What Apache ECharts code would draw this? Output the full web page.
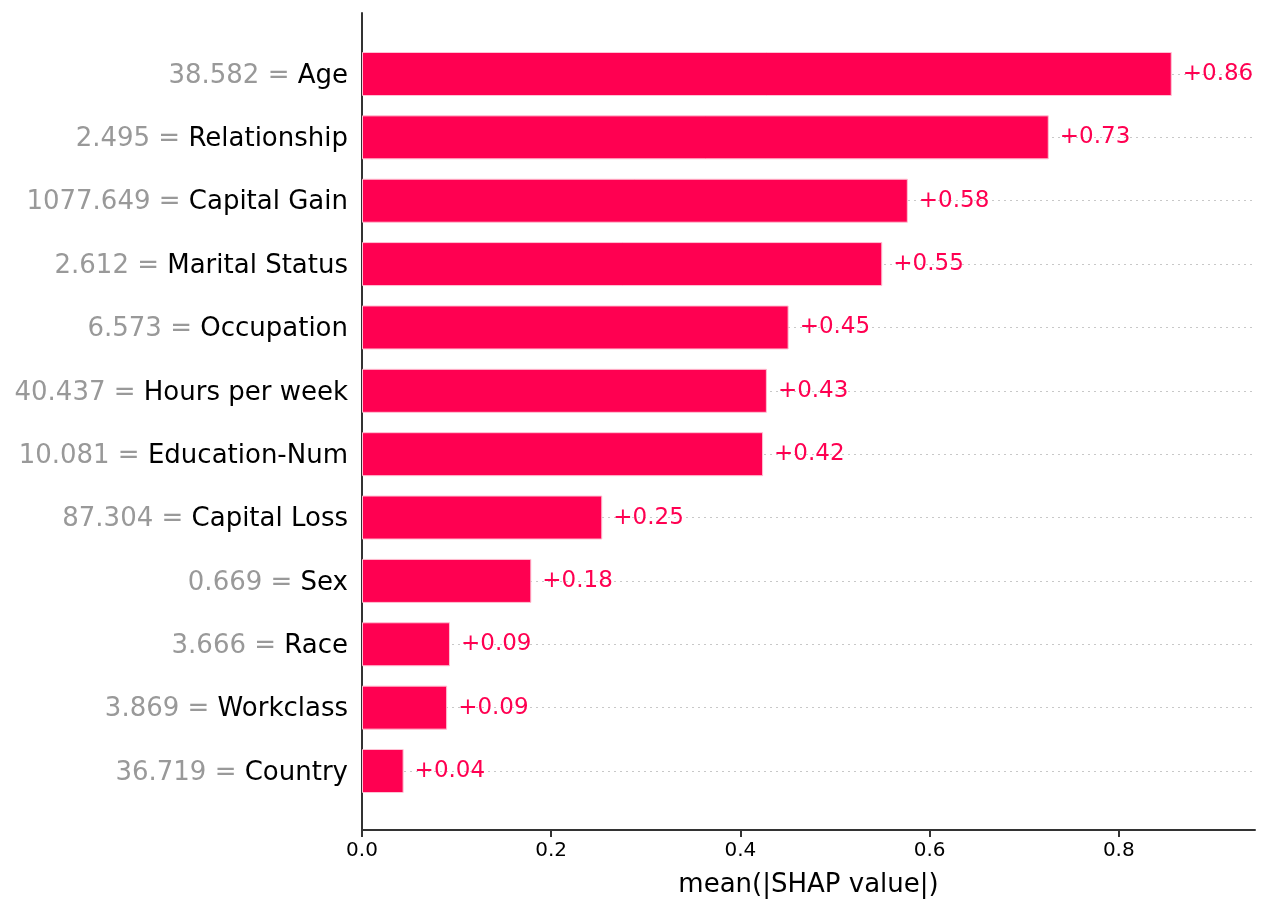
<!DOCTYPE html>
<html>
<head>
<meta charset="utf-8">
<script src="https://cdn.jsdelivr.net/npm/echarts@6/dist/echarts.min.js"></script>
<style>
  html, body { margin: 0; padding: 0; background: #fff; }
  #chart { width: 1269px; height: 913px; }
</style>
</head>
<body>
<div id="chart"></div>
<script>
// feature names, their mean values, and mean |SHAP| per feature
const features = ['Age', 'Relationship', 'Capital Gain', 'Marital Status', 'Occupation',
  'Hours per week', 'Education-Num', 'Capital Loss', 'Sex', 'Race', 'Workclass', 'Country'];
const featureValues = ['38.582', '2.495', '1077.649', '2.612', '6.573', '40.437',
  '10.081', '87.304', '0.669', '3.666', '3.869', '36.719'];
const shapValues = [0.856, 0.726, 0.577, 0.550, 0.451, 0.428, 0.424, 0.254, 0.179, 0.093, 0.090, 0.044];
const xTicks = [0, 0.2, 0.4, 0.6, 0.8];

const RED = '#ff0051';
const X_MAX = 0.944;
const FONT = 'DejaVu Sans';

const chart = echarts.init(document.getElementById('chart'));

chart.setOption({
  animation: false,
  textStyle: { fontFamily: FONT },
  grid: [
    // frame grid: draws the two axis lines
    { left: 362, right: 14, top: 13, bottom: 83 },
    // data grid: category centres spaced like the reference
    { left: 362, right: 14, top: 74, bottom: 142 }
  ],
  xAxis: [
    {
      gridIndex: 0, type: 'value', min: 0, max: X_MAX,
      name: 'mean(|SHAP value|)', nameLocation: 'middle', nameGap: 42,
      nameTextStyle: { fontSize: 26, color: '#000', fontFamily: FONT },
      axisLine: { show: true, lineStyle: { color: '#333', width: 2 } },
      axisTick: { show: true, length: 7, lineStyle: { color: '#333', width: 2 }, customValues: xTicks },
      axisLabel: { fontSize: 20, color: '#000', margin: 11, customValues: xTicks,
        formatter: v => v.toFixed(1) },
      splitLine: { show: false }
    },
    { gridIndex: 1, type: 'value', min: 0, max: X_MAX, show: false }
  ],
  yAxis: [
    {
      gridIndex: 0, type: 'value', min: 0, max: 1,
      axisLine: { show: true, lineStyle: { color: '#333', width: 2 } },
      axisTick: { show: false }, axisLabel: { show: false }, splitLine: { show: false }
    },
    {
      gridIndex: 1, type: 'category', data: features, inverse: true, boundaryGap: false,
      axisLine: { show: false }, axisTick: { show: false },
      splitLine: { show: true, interval: 0, lineStyle: { color: '#c8c8c8', width: 1, type: [2, 4] } },
      axisLabel: {
        interval: 0, margin: 14, padding: [4, 0, 0, 0],
        formatter: (name, i) => `{v|${featureValues[i]} = }{n|${name}}`,
        rich: {
          v: { fontSize: 26, color: '#999999', fontFamily: FONT },
          n: { fontSize: 26, color: '#000000', fontFamily: FONT }
        }
      }
    }
  ],
  series: [{
    type: 'bar',
    xAxisIndex: 1, yAxisIndex: 1,
    data: shapValues,
    barWidth: 44,
    itemStyle: { color: RED, borderColor: '#ffc2d4', borderWidth: 1 },
    label: {
      show: true, position: 'right', distance: 11,
      color: RED, fontSize: 23, fontFamily: FONT,
      formatter: p => '+' + p.value.toFixed(2)
    }
  }]
});
</script>
</body>
</html>
